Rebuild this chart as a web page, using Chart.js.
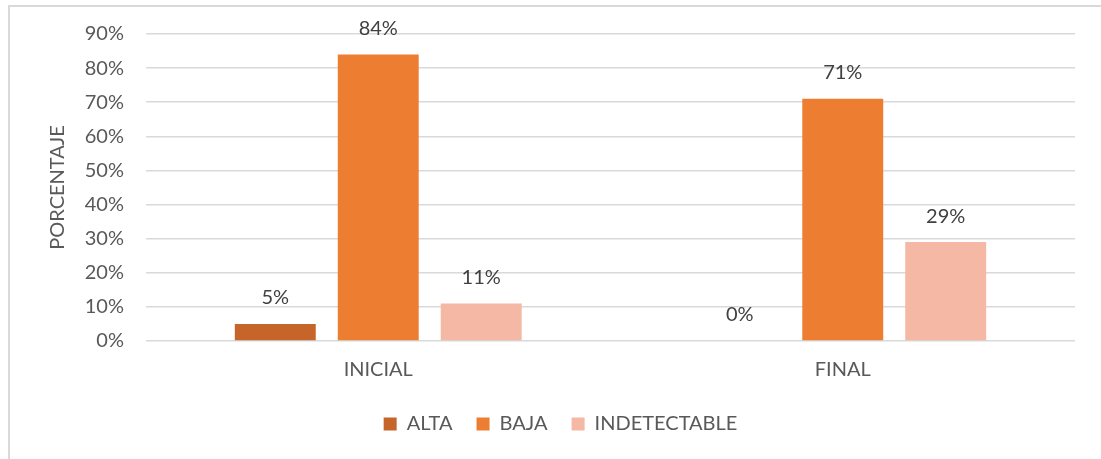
<!DOCTYPE html>
<html>
<head>
<meta charset="utf-8">
<script src="https://cdn.jsdelivr.net/npm/chart.js@4.4.1/dist/chart.umd.min.js"></script>
<style>
    html, body { margin: 0; padding: 0; background: #fff; overflow: hidden; }
    #wrap { position: relative; width: 1101px; height: 459px; }
    #frame { position: absolute; left: 8px; top: 5px; width: 1200px; height: 600px; border: 2px solid #d9d9d9; box-sizing: border-box; }
    canvas { position: absolute; left: 0; top: 0; }
</style>
</head>
<body>
<div id="wrap">
    <div id="frame"></div>
    <canvas id="chart" width="1101" height="459"></canvas>
</div>
<script>
const etapas = ['INICIAL', 'FINAL'];
const alta = [5, 0];
const baja = [84, 71];
const indetectable = [11, 29];
const colores = ['#C5652A', '#ED7D31', '#F4B8A5'];

const FONT = 'Lato, "Open Sans", sans-serif';

// etiquetas de porcentaje encima de cada barra
const etiquetasPlugin = {
    id: 'etiquetas',
    afterDatasetsDraw(chart) {
        const ctx = chart.ctx;
        ctx.save();
        ctx.font = '20px ' + FONT;
        ctx.fillStyle = '#404040';
        ctx.textAlign = 'center';
        ctx.textBaseline = 'bottom';
        chart.data.datasets.forEach((ds, i) => {
            chart.getDatasetMeta(i).data.forEach((bar, j) => {
                ctx.fillText(ds.data[j] + '%', bar.x, bar.y - 16);
            });
        });
        ctx.restore();
    }
};

new Chart(document.getElementById('chart'), {
    type: 'bar',
    data: {
        labels: etapas,
        datasets: [
            { label: 'ALTA', data: alta, backgroundColor: colores[0] },
            { label: 'BAJA', data: baja, backgroundColor: colores[1] },
            { label: 'INDETECTABLE', data: indetectable, backgroundColor: colores[2] }
        ]
    },
    options: {
        responsive: false,
        animation: false,
        layout: { padding: { left: 46, right: 26, top: 34, bottom: 15 } },
        datasets: { bar: { categoryPercentage: 0.665, barPercentage: 0.786 } },
        plugins: {
            legend: {
                position: 'bottom',
                labels: {
                    color: '#595959',
                    font: { family: FONT, size: 20 },
                    boxWidth: 13,
                    boxHeight: 13,
                    padding: 24
                }
            },
            tooltip: { enabled: false }
        },
        scales: {
            x: {
                grid: { display: false },
                border: { display: false },
                ticks: { color: '#595959', font: { family: FONT, size: 20 }, padding: 9 },
                afterFit: (scale) => { scale.height = 49; }
            },
            y: {
                min: 0,
                max: 90,
                grid: { color: '#d9d9d9', lineWidth: 1.5, drawTicks: false },
                border: { display: false },
                ticks: {
                    stepSize: 10,
                    color: '#595959',
                    padding: 22,
                    font: { family: FONT, size: 20 },
                    callback: (v) => v + '%'
                },
                title: {
                    display: true,
                    text: 'PORCENTAJE',
                    color: '#595959',
                    font: { family: FONT, size: 20 },
                    padding: { top: 0, bottom: 6 }
                },
                afterFit: (scale) => { scale.width = 100; }
            }
        }
    },
    plugins: [etiquetasPlugin]
});
</script>
</body>
</html>
